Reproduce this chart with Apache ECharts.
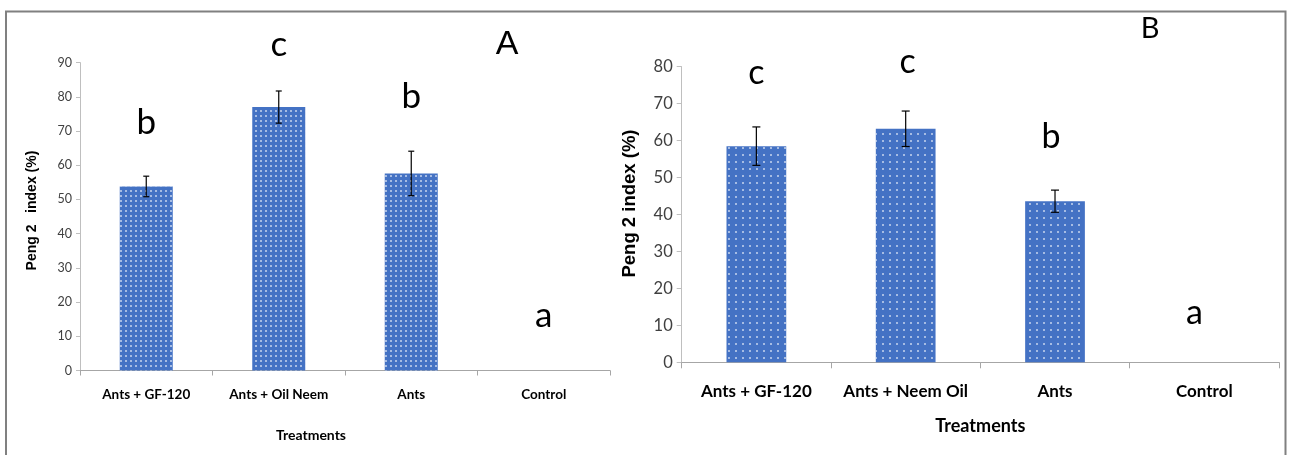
<!DOCTYPE html>
<html>
<head>
<meta charset="utf-8">
<script src="https://cdn.jsdelivr.net/npm/echarts@6/dist/echarts.min.js"></script>
<style>
html,body{margin:0;padding:0;background:#fff;}
#c{width:1289px;height:455px;}
</style>
</head>
<body>
<div id="c"></div>
<script>
// ---------- data ----------
const categoriesA = ["Ants + GF-120", "Ants + Oil Neem", "Ants", "Control"];
const categoriesB = ["Ants + GF-120", "Ants + Neem Oil", "Ants", "Control"];
const valuesA = [53.8, 77.0, 57.6, 0];
const errorsA = [3.0, 4.7, 6.5, 0];
const valuesB = [58.5, 63.2, 43.6, 0];
const errorsB = [5.2, 4.8, 3.0, 0];
const lettersA = ["b", "c", "b", "a"];
const lettersB = ["c", "c", "b", "a"];
const yTicksA = [0, 10, 20, 30, 40, 50, 60, 70, 80, 90];
const yTicksB = [0, 10, 20, 30, 40, 50, 60, 70, 80];

// ---------- layout / style ----------
const letterYA = [123, 45, 97, 316];   // pixel centre of significance letters
const letterYB = [73, 62, 137, 313];
const letterDxB = [0, 2, -4, -10];
const barColor = '#4472C4';
const calibri = 'Lato, "Open Sans", sans-serif';

function decal(step) {
  return {
    symbol: 'circle',
    symbolSize: 1,
    color: 'rgba(255,255,255,0.7)',
    backgroundColor: null,
    dashArrayX: [1.6, step - 1.6],
    dashArrayY: [1.6, step - 1.6],
    rotation: 0
  };
}

function errRender(capW) {
  return function (params, api) {
    const i = api.value(0), v = api.value(1), e = api.value(2);
    if (!e) return null;
    const t = api.coord([i, v + e]);
    const b = api.coord([i, v - e]);
    const st = { stroke: '#000', lineWidth: 1.2 };
    return {
      type: 'group',
      children: [
        { type: 'line', shape: { x1: t[0], y1: t[1], x2: b[0], y2: b[1] }, style: st },
        { type: 'line', shape: { x1: t[0] - capW / 2, y1: t[1], x2: t[0] + capW / 2, y2: t[1] }, style: st },
        { type: 'line', shape: { x1: b[0] - capW / 2, y1: b[1], x2: b[0] + capW / 2, y2: b[1] }, style: st }
      ]
    };
  };
}

function letterRender(letters, ys, dxs, size) {
  return function (params, api) {
    const i = api.value(0);
    const x = api.coord([i, 0])[0] + (dxs ? dxs[i] : 0);
    return {
      type: 'text',
      x: x, y: ys[i],
      style: {
        text: letters[i], fill: '#000',
        font: size + 'px ' + calibri,
        textAlign: 'center', textVerticalAlign: 'middle'
      }
    };
  };
}

const chart = echarts.init(document.getElementById('c'), null, { renderer: 'canvas' });

const option = {
  backgroundColor: '#fff',
  animation: false,
  grid: [
    { left: 80, right: 679, top: 62.6, bottom: 84.5 },
    { left: 681.7, right: 10, top: 66.7, bottom: 92.7 }
  ],
  xAxis: [
    {
      gridIndex: 0, type: 'category', data: categoriesA,
      axisLine: { lineStyle: { color: '#a6a6a6', width: 1 } },
      axisTick: { show: true, length: 5, lineStyle: { color: '#a6a6a6' } },
      axisLabel: { interval: 0, color: '#000', fontFamily: calibri, fontWeight: 'bold', fontSize: 13.5, margin: 17 },
      name: 'Treatments', nameLocation: 'middle', nameGap: 58,
      nameTextStyle: { color: '#000', fontFamily: calibri, fontWeight: 'bold', fontSize: 14, padding: [0, 68, 0, 0] }
    },
    {
      gridIndex: 1, type: 'category', data: categoriesB,
      axisLine: { lineStyle: { color: '#a6a6a6', width: 1 } },
      axisTick: { show: true, length: 6, lineStyle: { color: '#a6a6a6' } },
      axisLabel: { interval: 0, color: '#000', fontFamily: calibri, fontWeight: 'bold', fontSize: 17, margin: 21 },
      name: 'Treatments', nameLocation: 'middle', nameGap: 55,
      nameTextStyle: { color: '#000', fontFamily: calibri, fontWeight: 'bold', fontSize: 18 }
    }
  ],
  yAxis: [
    {
      gridIndex: 0, type: 'value', min: yTicksA[0], max: yTicksA[yTicksA.length - 1], interval: yTicksA[1] - yTicksA[0],
      axisLine: { show: true, lineStyle: { color: '#bfbfbf' } },
      axisTick: { show: true, length: 4, lineStyle: { color: '#bfbfbf' } },
      splitLine: { show: false },
      axisLabel: { color: '#404040', fontFamily: calibri, fontSize: 12.5, margin: 8 },
      name: 'Peng 2   index (%)', nameLocation: 'middle', nameGap: 41, nameRotate: 90,
      nameTextStyle: { color: '#000', fontFamily: '"Liberation Sans", Arial, sans-serif', fontWeight: 'bold', fontSize: 14, padding: [0, 0, 0, 12] }
    },
    {
      gridIndex: 1, type: 'value', min: yTicksB[0], max: yTicksB[yTicksB.length - 1], interval: yTicksB[1] - yTicksB[0],
      axisLine: { show: true, lineStyle: { color: '#bfbfbf' } },
      axisTick: { show: true, length: 5, lineStyle: { color: '#bfbfbf' } },
      splitLine: { show: false },
      axisLabel: { color: '#404040', fontFamily: calibri, fontSize: 16.5, margin: 9 },
      name: 'Peng 2 index (%)', nameLocation: 'middle', nameGap: 42, nameRotate: 90,
      nameTextStyle: { color: '#000', fontFamily: '"Liberation Sans", Arial, sans-serif', fontWeight: 'bold', fontSize: 18.5, padding: [0, 0, 0, 22] }
    }
  ],
  series: [
    {
      type: 'bar', xAxisIndex: 0, yAxisIndex: 0, data: valuesA, barWidth: '40%',
      itemStyle: { color: barColor, decal: decal(4.3) }
    },
    {
      type: 'bar', xAxisIndex: 1, yAxisIndex: 1, data: valuesB, barWidth: '40%',
      itemStyle: { color: barColor, decal: decal(6.6) }
    },
    {
      type: 'custom', xAxisIndex: 0, yAxisIndex: 0, z: 5, clip: false,
      renderItem: errRender(6),
      data: valuesA.map((v, i) => [i, v, errorsA[i]])
    },
    {
      type: 'custom', xAxisIndex: 1, yAxisIndex: 1, z: 5, clip: false,
      renderItem: errRender(8),
      data: valuesB.map((v, i) => [i, v, errorsB[i]])
    },
    {
      type: 'custom', xAxisIndex: 0, yAxisIndex: 0, z: 6, clip: false,
      renderItem: letterRender(lettersA, letterYA, null, 35),
      data: lettersA.map((l, i) => [i, 0])
    },
    {
      type: 'custom', xAxisIndex: 1, yAxisIndex: 1, z: 6, clip: false,
      renderItem: letterRender(lettersB, letterYB, letterDxB, 34),
      data: lettersB.map((l, i) => [i, 0])
    }
  ],
  graphic: [
    {
      type: 'rect', z: 100, silent: true,
      shape: { x: 6, y: 11.5, width: 1279.5, height: 460 },
      style: { fill: 'none', stroke: '#808080', lineWidth: 2 }
    },
    {
      type: 'text', x: 507, y: 45, z: 100,
      style: { text: 'A', fill: '#000', font: '34px "Liberation Sans", Arial, sans-serif', textAlign: 'center', textVerticalAlign: 'middle' }
    },
    {
      type: 'text', x: 1150, y: 29, z: 100,
      style: { text: 'B', fill: '#000', font: '29px ' + calibri, textAlign: 'center', textVerticalAlign: 'middle' }
    }
  ]
};

chart.setOption(option);
</script>
</body>
</html>
